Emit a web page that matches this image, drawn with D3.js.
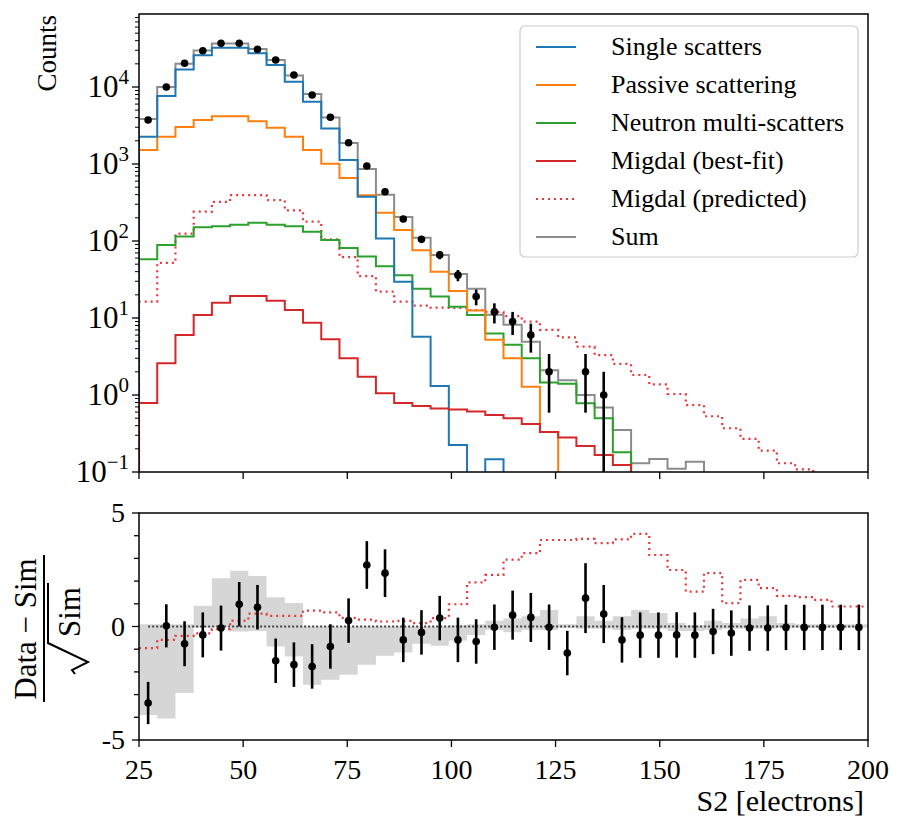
<!DOCTYPE html>
<html><head><meta charset="utf-8">
<script src="https://cdn.jsdelivr.net/npm/d3@7"></script>
<style>
body{margin:0;background:#fff}
svg{display:block}
svg text{font-family:"Liberation Serif","DejaVu Serif",serif}
</style>
</head><body>
<svg id="chart" width="898" height="824"></svg>
<script>
// ---------------- DATA ----------------
const binEdges = [25,29.375,33.75,38.125,42.5,46.875,51.25,55.625,60,64.375,68.75,73.125,77.5,81.875,86.25,90.625,95,99.375,103.75,108.125,112.5,116.875,121.25,125.625,130,134.375,138.75,143.125,147.5,151.875,156.25,160.625,165,169.375,173.75,178.125,182.5,186.875,191.25,195.625,200];
const binCenters = [27.19,31.56,35.94,40.31,44.69,49.06,53.44,57.81,62.19,66.56,70.94,75.31,79.69,84.06,88.44,92.81,97.19,101.56,105.94,110.31,114.69,119.06,123.44,127.81,132.19,136.56,140.94,145.31,149.69,154.06,158.44,162.81,167.19,171.56,175.94,180.31,184.69,189.06,193.44,197.81];

const singleScatters = [2260,7650,16900,25800,32400,32400,27400,19300,11700,6440,2900,1130,376,108,29.6,5.7,1.31,0.224,0,0.146,0,0,0,0,0,0,0,0,0,0,0,0,0,0,0,0,0,0,0,0];
const passiveScatter = [1515,2260,3020,3730,4160,4160,3600,2960,2260,1515,1010,660,393,233,139,76,40,22.5,12.5,5.2,3.0,1.28,0.33,0,0,0,0,0,0,0,0,0,0,0,0,0,0,0,0,0];
const neutronMulti   = [57.8,88.8,114,151,155,162,173,162,155,132,103,81,63,47,36,24,19,14,10.9,6.3,4.5,3.0,1.45,1.4,0.78,0.50,0.18,0,0,0,0,0,0,0,0,0,0,0,0,0];
const migdalBestFit  = [0.79,2.58,6.0,10.9,15.8,19.3,19.3,16.7,12.7,8.7,5.3,3.0,1.73,1.05,0.79,0.72,0.67,0.65,0.61,0.55,0.50,0.42,0.33,0.28,0.218,0.166,0.123,0,0,0,0,0,0,0,0,0,0,0,0,0];
const migdalPredicted= [16.3,52,125,240,322,394,394,340,250,178,105,61.6,35,22,16.3,14.5,13.6,13.5,12.7,12.0,10.6,8.95,7.0,5.6,4.24,3.3,2.53,1.82,1.37,1.03,0.74,0.53,0.37,0.27,0.19,0.13,0.108,0,0,0];
const sumSim         = [3830,10000,20040,29700,36730,36750,31190,22440,14130,8100,4020,1875,860,400,205,110,66,37.4,24,11,8.2,4.9,2.1,1.55,1.0,0.69,0.35,0.13,0.148,0.11,0.136,0,0,0,0,0,0,0,0,0];
const dataCounts     = [3730,10000,20300,29600,36900,36900,30900,22400,14300,7870,4040,1890,942,437,193,105,66,36,19,12,9,6,2,0,2,1,0,0,0,0,0,0,0,0,0,0,0,0,0,0];
const dataErrors     = [61,100,142,172,192,192,176,150,120,89,64,43,31,21,14,10,8.1,6,4.4,3.5,3,2.45,1.41,0,1.41,1,0,0,0,0,0,0,0,0,0,0,0,0,0,0];

const residuals  = [-3.37,0.03,-0.76,-0.37,-0.07,0.98,0.85,-1.51,-1.68,-1.76,-0.88,0.26,2.71,2.35,-0.59,-0.26,0.37,-0.59,-0.66,-0.03,0.50,0.40,-0.03,-1.17,1.25,0.55,-0.59,-0.38,-0.38,-0.37,-0.38,-0.22,-0.29,-0.07,-0.07,-0.04,-0.04,-0.04,-0.04,-0.04];
const residualErr= [0.93,0.95,0.99,0.99,0.99,0.98,0.98,0.98,0.98,0.98,0.98,0.98,1.05,1.05,0.98,0.98,0.98,0.98,0.98,1.0,1.08,1.08,1.0,0.98,1.54,1.28,1.0,1.0,1.0,1.0,1.0,1.0,1.0,1.0,1.0,1.0,1.0,1.0,1.0,1.0];
const bandLow    = [-3.9,-4.05,-2.93,-0.05,0.0,-0.22,-0.2,-0.88,-1.32,-2.57,-2.35,-2.13,-1.69,-1.29,-1.14,-0.76,-0.85,-0.62,-0.37,-0.15,-0.25,-0.15,-0.15,-0.05,-0.1,-0.1,-0.15,-0.1,-0.1,-0.2,-0.2,-0.15,-0.1,-0.1,-0.1,-0.05,-0.05,-0.05,-0.05,-0.05];
const bandHigh   = [0.1,0.1,0.1,0.91,2.13,2.46,2.23,1.29,1.03,0.0,0.0,0.0,0.0,0.0,0.0,0.0,0.0,0.05,0.1,0.25,0.35,0.45,0.73,0.1,0.45,0.25,0.45,0.73,0.6,0.15,0.05,0.25,0.15,0.35,0.45,0.15,0.1,0.1,0.1,0.1];
const predictedResidual = [-0.95,-0.59,-0.41,-0.30,-0.12,0.26,0.57,0.47,0.47,0.70,0.62,0.38,0.30,0.22,0.25,0.15,0.37,0.98,1.94,2.27,2.95,3.23,3.81,3.81,3.86,3.67,3.84,4.08,3.15,2.49,1.54,2.35,1.03,2.05,1.69,1.35,1.29,1.17,0.88,0.88];

const xTicks = [25,50,75,100,125,150,175,200];
const yTopExponents = [-1,0,1,2,3,4];
const yBotTickLabels = [-5,0,5];
const yBotTicks = [-5,-4,-3,-2,-1,0,1,2,3,4,5];

const legendLabels = ["Single scatters","Passive scattering","Neutron multi-scatters","Migdal (best-fit)","Migdal (predicted)","Sum"];

// ---------------- LAYOUT ----------------
const L = 139, R = 868;
const T1 = 14, B1 = 472;
const T2 = 513, B2 = 740;
const TICKF = 28, LABF = 26;

const colors = {single:"#1f77b4", passive:"#ff7f0e", neutron:"#2ca02c", migdal:"#d62728", pred:"#e8343a", sum:"#8c8c8c"};

const svg = d3.select("#chart");
const x = d3.scaleLinear().domain([25,200]).range([L,R]);
const yTop = d3.scaleLog().domain([0.1, Math.pow(10, 4 + (87-14)/77)]).range([B1,T1]);
const yBot = d3.scaleLinear().domain([-5,5]).range([B2,T2]);

function txt(g){ return g.append("text").attr("fill","#000"); }

const defs = svg.append("defs");
defs.append("clipPath").attr("id","clipTop").append("rect").attr("x",L).attr("y",T1).attr("width",R-L).attr("height",B1-T1);
defs.append("clipPath").attr("id","clipBot").append("rect").attr("x",L).attr("y",T2).attr("width",R-L).attr("height",B2-T2);

// ---------- top panel ----------
const gTop = svg.append("g").attr("clip-path","url(#clipTop)");
const lineGen = d3.line();
function stepPts(vals){
  const floorY = yTop(1e-3);
  const pts = [[x(binEdges[0]), floorY]];
  vals.forEach((v,i)=>{
    const yy = v>0 ? yTop(v) : floorY;
    pts.push([x(binEdges[i]), yy]);
    pts.push([x(binEdges[i+1]), yy]);
  });
  pts.push([x(binEdges[binEdges.length-1]), floorY]);
  return pts;
}
function drawHist(vals, color, dash){
  const p = gTop.append("path").attr("d", lineGen(stepPts(vals)))
    .attr("fill","none").attr("stroke",color).attr("stroke-width",2).attr("stroke-linejoin","miter");
  if(dash) p.attr("stroke-dasharray",dash).attr("stroke-width",2.2);
}
drawHist(migdalPredicted, colors.pred, "2,4");
drawHist(sumSim, colors.sum);
drawHist(neutronMulti, colors.neutron);
drawHist(passiveScatter, colors.passive);
drawHist(singleScatters, colors.single);
drawHist(migdalBestFit, colors.migdal);

dataCounts.forEach((n,i)=>{
  if(n<=0) return;
  const cx = x(binCenters[i]);
  const lo = n - dataErrors[i] > 0 ? yTop(n - dataErrors[i]) : B1+5;
  const hi = yTop(n + dataErrors[i]);
  gTop.append("line").attr("x1",cx).attr("x2",cx).attr("y1",lo).attr("y2",hi).attr("stroke","#000").attr("stroke-width",2.6);
  gTop.append("circle").attr("cx",cx).attr("cy",yTop(n)).attr("r",3.8).attr("fill","#000");
});

const axTop = svg.append("g");
axTop.append("rect").attr("x",L).attr("y",T1).attr("width",R-L).attr("height",B1-T1).attr("fill","none").attr("stroke","#000").attr("stroke-width",1.5);
xTicks.forEach(t=>{
  axTop.append("line").attr("x1",x(t)).attr("x2",x(t)).attr("y1",B1).attr("y2",B1+7).attr("stroke","#000").attr("stroke-width",1.3);
});
yTopExponents.forEach(k=>{
  const v = Math.pow(10,k);
  const yy = yTop(v);
  axTop.append("line").attr("x1",L-7).attr("x2",L).attr("y1",yy).attr("y2",yy).attr("stroke","#000").attr("stroke-width",1.3);
  const tx = txt(axTop).attr("x",L-10).attr("y",yy+10).attr("text-anchor","end").attr("font-size",31);
  tx.append("tspan").text("10");
  tx.append("tspan").attr("dy",-13).attr("font-size",21).text(k<0 ? "\u2212"+Math.abs(k) : String(k));
  for(let m=2;m<=9;m++){
    const my = yTop(m*v); if(my < T1) continue;
    axTop.append("line").attr("x1",L-4).attr("x2",L).attr("y1",my).attr("y2",my).attr("stroke","#000").attr("stroke-width",1);
  }
});
txt(axTop).attr("transform",`translate(56,${T1+1}) rotate(-90)`).attr("text-anchor","end").attr("font-size",LABF+1).text("Counts");

// legend
const lg = svg.append("g");
lg.append("rect").attr("x",520).attr("y",26).attr("width",338).attr("height",231).attr("rx",5).attr("ry",5)
  .attr("fill","#fff").attr("fill-opacity",0.85).attr("stroke","#cccccc").attr("stroke-width",1.2);
const legendColors = [colors.single, colors.passive, colors.neutron, colors.migdal, colors.pred, colors.sum];
legendLabels.forEach((lab,i)=>{
  const yy = 47 + i*38;
  const ln = lg.append("line").attr("x1",536).attr("x2",576).attr("y1",yy).attr("y2",yy).attr("stroke",legendColors[i]).attr("stroke-width",2);
  if(i===4) ln.attr("stroke-dasharray","2,4").attr("stroke-width",2.2);
  txt(lg).attr("x",611).attr("y",yy+8).attr("font-size",LABF).text(lab);
});

// ---------- bottom panel ----------
const gBot = svg.append("g").attr("clip-path","url(#clipBot)");
const bandPts = bandLow.map((v,i)=>({x:binEdges[i], lo:v, hi:bandHigh[i]}));
bandPts.push({x:binEdges[binEdges.length-1], lo:bandLow[bandLow.length-1], hi:bandHigh[bandHigh.length-1]});
gBot.append("path").datum(bandPts)
  .attr("d", d3.area().curve(d3.curveStepAfter).x(d=>x(d.x)).y0(d=>yBot(d.lo)).y1(d=>yBot(d.hi)))
  .attr("fill","#d6d6d6");
gBot.append("line").attr("x1",x(binCenters[0])).attr("x2",x(binCenters[binCenters.length-1])).attr("y1",yBot(0)).attr("y2",yBot(0))
  .attr("stroke","#444").attr("stroke-width",2).attr("stroke-dasharray","2,2");
const predPts = predictedResidual.map((v,i)=>({x:binEdges[i], v}));
predPts.push({x:binEdges[binEdges.length-1], v:predictedResidual[predictedResidual.length-1]});
gBot.append("path").datum(predPts)
  .attr("d", d3.line().curve(d3.curveStepAfter).x(d=>x(d.x)).y(d=>yBot(d.v)))
  .attr("fill","none").attr("stroke",colors.pred).attr("stroke-width",2.2).attr("stroke-dasharray","2,4");
residuals.forEach((r,i)=>{
  const cx = x(binCenters[i]);
  gBot.append("line").attr("x1",cx).attr("x2",cx).attr("y1",yBot(r-residualErr[i])).attr("y2",yBot(r+residualErr[i])).attr("stroke","#000").attr("stroke-width",2.6);
  gBot.append("circle").attr("cx",cx).attr("cy",yBot(r)).attr("r",3.8).attr("fill","#000");
});

const axBot = svg.append("g");
axBot.append("rect").attr("x",L).attr("y",T2).attr("width",R-L).attr("height",B2-T2).attr("fill","none").attr("stroke","#000").attr("stroke-width",1.5);
xTicks.forEach(t=>{
  axBot.append("line").attr("x1",x(t)).attr("x2",x(t)).attr("y1",B2).attr("y2",B2+7).attr("stroke","#000").attr("stroke-width",1.3);
  txt(axBot).attr("x",x(t)).attr("y",B2+39).attr("text-anchor","middle").attr("font-size",TICKF).text(String(t));
});
yBotTicks.forEach(t=>{
  const major = yBotTickLabels.includes(t);
  axBot.append("line").attr("x1",L-(major?7:5)).attr("x2",L).attr("y1",yBot(t)).attr("y2",yBot(t)).attr("stroke","#000").attr("stroke-width",1.3);
});
yBotTickLabels.forEach(t=>{
  txt(axBot).attr("x",L-14).attr("y",yBot(t)+9).attr("text-anchor","end").attr("font-size",TICKF).text(String(t));
});
txt(axBot).attr("x",R-4).attr("y",811).attr("text-anchor","end").attr("font-size",30).text("S2 [electrons]");

const fr = svg.append("g").attr("transform","translate(44,627) rotate(-90)");
txt(fr).attr("x",-2).attr("y",-8).attr("text-anchor","middle").attr("font-size",31).text("Data \u2212 Sim");
fr.append("line").attr("x1",-75).attr("x2",72).attr("y1",0).attr("y2",0).attr("stroke","#000").attr("stroke-width",2);
fr.append("path").attr("d","M -47 31 L -43 28 L -35 44 L -16 4 L 44 4").attr("fill","none").attr("stroke","#000").attr("stroke-width",2);
txt(fr).attr("x",15).attr("y",36).attr("text-anchor","middle").attr("font-size",31).text("Sim");
</script>
</body></html>
